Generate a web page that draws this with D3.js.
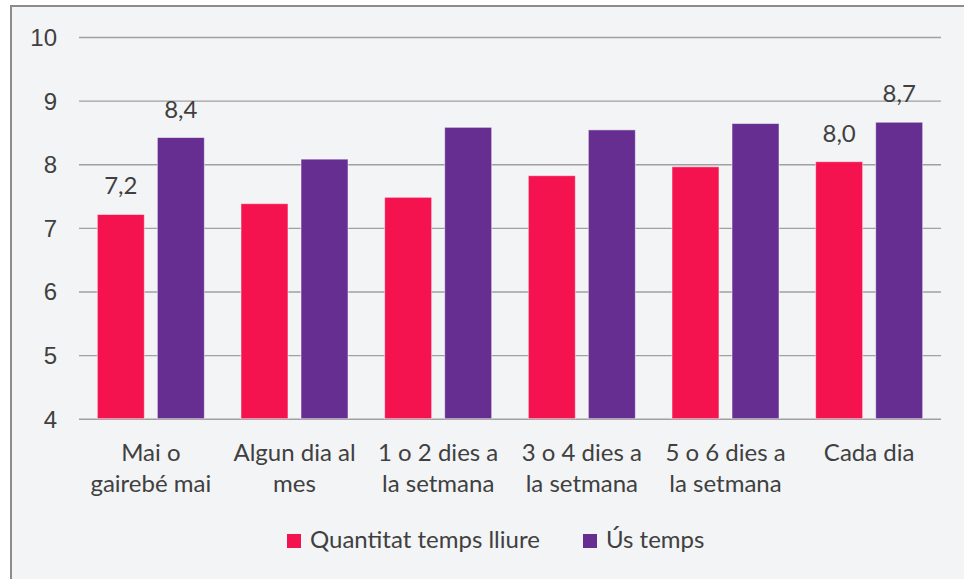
<!DOCTYPE html>
<html>
<head>
<meta charset="utf-8">
<script src="https://cdn.jsdelivr.net/npm/d3@7"></script>
<style>
  body { margin: 0; background: #ffffff; }
  svg { display: block; font-family: Lato, "Open Sans", sans-serif; }
</style>
</head>
<body>
<svg id="chart" width="964" height="579"></svg>
<script>
// chart data
const categories = [
    ["Mai o", "gairebé mai"],
    ["Algun dia al", "mes"],
    ["1 o 2 dies a", "la setmana"],
    ["3 o 4 dies a", "la setmana"],
    ["5 o 6 dies a", "la setmana"],
    ["Cada dia"]
];
const seriesNames = ["Quantitat temps lliure", "Ús temps"];
const quantitat = [7.21, 7.38, 7.48, 7.82, 7.96, 8.04];
const usTemps = [8.42, 8.08, 8.58, 8.54, 8.64, 8.66];
const yTicks = [4, 5, 6, 7, 8, 9, 10];
// only the first and last group carry value labels
const labelled = [0, 5];

const colors = ["#f5134f", "#672e91"];
const textColor = "#404040";

const svg = d3.select("#chart");

// panel background and frame
svg.append("rect")
    .attr("x", 11).attr("y", 6)
    .attr("width", 964).attr("height", 600)
    .attr("fill", "#f3f4f6")
    .attr("stroke", "#8c8c8c")
    .attr("stroke-width", 2);

const plot = { left: 79, right: 941, top: 37, bottom: 418.7 };

const y = d3.scaleLinear()
    .domain([4, 10])
    .range([plot.bottom, plot.top]);

const x0 = d3.scaleBand()
    .domain(d3.range(categories.length))
    .range([plot.left, plot.right])
    .paddingInner(0.255)
    .paddingOuter(0.1275);

const x1 = d3.scaleBand()
    .domain(d3.range(seriesNames.length))
    .range([0, x0.bandwidth()])
    .paddingInner(0.217);

// gridlines
const yAxis = d3.axisLeft(y)
    .tickValues(yTicks)
    .tickSize(-(plot.right - plot.left))
    .tickPadding(22)
    .tickFormat(d3.format("d"));

const gy = svg.append("g")
    .attr("transform", `translate(${plot.left},0)`)
    .call(yAxis);
gy.select(".domain").remove();
gy.selectAll(".tick line")
    .attr("stroke", "#a0a0a0")
    .attr("stroke-width", 1.4);
gy.selectAll(".tick text")
    .attr("fill", textColor)
    .style("font-size", "24px")
    .attr("dy", "0.35em");

// bars
const rows = categories.map((c, i) => ({ i: i, values: [quantitat[i], usTemps[i]] }));

const groups = svg.append("g")
    .selectAll("g")
    .data(rows)
    .enter().append("g")
    .attr("transform", d => `translate(${x0(d.i)},0)`);

groups.selectAll("rect")
    .data(d => d.values.map((v, s) => ({ s: s, v: v, i: d.i })))
    .enter().append("rect")
    .attr("x", d => x1(d.s))
    .attr("width", x1.bandwidth())
    .attr("y", d => y(d.v))
    .attr("height", d => y(4) - y(d.v))
    .attr("fill", d => colors[d.s])
    .attr("stroke", "rgba(255,255,255,0.5)")
    .attr("stroke-width", 1);

// value labels
groups.filter(d => labelled.includes(d.i))
    .selectAll("text")
    .data(d => d.values.map((v, s) => ({ s: s, v: v })))
    .enter().append("text")
    .attr("x", d => x1(d.s) + x1.bandwidth() / 2)
    .attr("y", d => y(d.v) - 20)
    .attr("text-anchor", "middle")
    .attr("fill", textColor)
    .style("font-size", "24px")
    .text(d => d3.format(".1f")(d.v).replace(".", ","));

// category labels
const cat = svg.append("g")
    .selectAll("text")
    .data(categories)
    .enter().append("text")
    .attr("x", (d, i) => x0(i) + x0.bandwidth() / 2)
    .attr("y", 461)
    .attr("text-anchor", "middle")
    .attr("fill", textColor)
    .style("font-size", "24px");
cat.selectAll("tspan")
    .data(d => d)
    .enter().append("tspan")
    .attr("x", function () { return d3.select(this.parentNode).attr("x"); })
    .attr("dy", (d, j) => j === 0 ? 0 : 31)
    .text(d => d);

// legend
const legendX = [287, 583];
const legend = svg.append("g")
    .selectAll("g")
    .data(seriesNames)
    .enter().append("g")
    .attr("transform", (d, i) => `translate(${legendX[i]},534)`);
legend.append("rect")
    .attr("width", 14).attr("height", 14)
    .attr("fill", (d, i) => colors[i]);
legend.append("text")
    .attr("x", 23)
    .attr("y", 14)
    .attr("fill", textColor)
    .style("font-size", "24px")
    .text(d => d);
</script>
</body>
</html>
